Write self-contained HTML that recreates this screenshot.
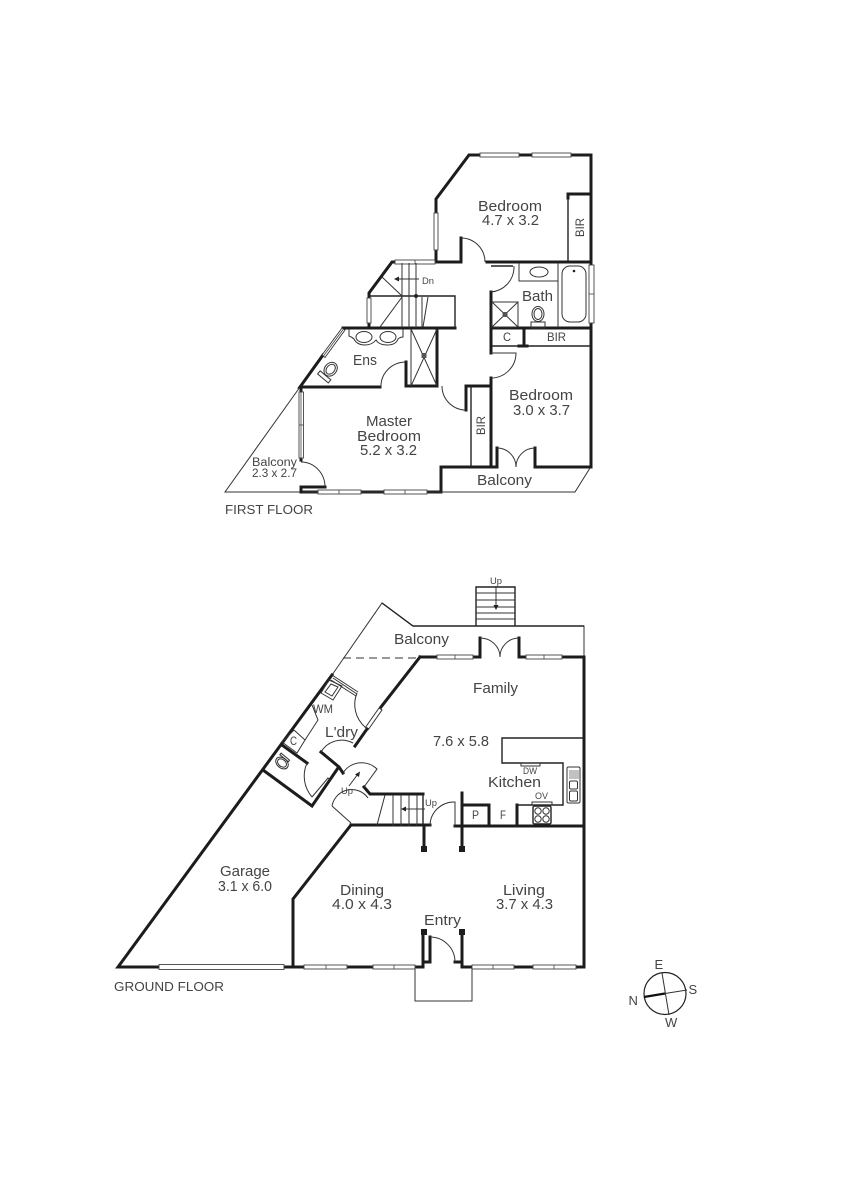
<!DOCTYPE html>
<html><head><meta charset="utf-8"><style>
html,body{margin:0;padding:0;background:#fff}
svg{display:block}
text{font-family:"Liberation Sans",sans-serif;font-size:15px;fill:#444;stroke:none}
.s{font-size:11.500px}
.xs{font-size:9.500px}
.t{fill:none;stroke:#1c1c1c;stroke-width:3;stroke-linejoin:miter;stroke-linecap:square}
.m{fill:none;stroke:#222;stroke-width:1.400}
.n{fill:none;stroke:#333;stroke-width:1}
.w rect{fill:#fff;stroke:#444;stroke-width:.9}
.w line{stroke:#444;stroke-width:.8}
</style></head><body>
<svg xmlns="http://www.w3.org/2000/svg" width="848" height="1200" viewBox="0 0 848 1200">
<rect width="848" height="1200" fill="#fff"/>

<!-- FIRST FLOOR walls -->
<path class="t" d="M591 155H469L436 199V262H461V238"/>
<path class="t" d="M487 262H591"/>
<path class="t" d="M591 155V467H535V448"/>
<path class="t" d="M568 198V194H591"/>
<path class="m" d="M568 194V262"/>
<path class="t" d="M497 448V467H441V492H301V487H325"/>
<path class="t" d="M491 292V353M491 328H591"/>
<path class="m" d="M491 346H591M524 328V346M491 266H513"/>
<path class="t" d="M491 346H491M519 346H527M524 328V346"/>
<path class="t" d="M491 378V467"/>
<path class="t" d="M436 262H392L369 293V328"/>
<path class="t" d="M343 328H455"/>
<path class="t" d="M323 355L300 387H380M406 362V386H411"/>
<path class="m" d="M406 386H438M343 328L323 355"/>
<path class="t" d="M411 386H437V328"/>
<path class="t" d="M466 410V386H491"/>
<path class="m" d="M369 296H455V328M471 386V467"/>
<path class="n" d="M300 387L225 492H575L590 468"/>
<path class="t" d="M301 388V392M301 458V460M301 487V492"/>

<!-- door arcs first floor -->
<path class="n" d="M461 238A24 24 0 0 1 485 262"/>
<path class="n" d="M514 266V268A25 25 0 0 1 491 292"/>
<path class="n" d="M491 353H516A25 25 0 0 1 491 378"/>
<path class="n" d="M381 386A25 24 0 0 1 405 362"/>
<path class="n" d="M442 386A24 24 0 0 0 466 410"/>
<path class="n" d="M497 448A19 19 0 0 1 516 467M535 448A19 19 0 0 0 516 467"/>
<path class="n" d="M301 462A24 25 0 0 1 325 487"/>

<!-- first floor windows -->
<g class="w">
<rect x="480" y="153" width="39" height="4"/><rect x="532" y="153" width="39" height="4"/>
<rect x="434" y="213" width="4" height="37"/>
<rect x="395" y="260" width="40" height="4"/><line x1="415" y1="260" x2="415" y2="264"/>
<rect x="367" y="298" width="4" height="25"/>
<rect x="589" y="265" width="5" height="58"/><line x1="589" y1="294" x2="594" y2="294"/>
<rect x="299" y="392" width="4.500" height="66"/><line x1="301" y1="392" x2="301" y2="458"/><line x1="299" y1="425" x2="304" y2="425"/>
<rect x="318" y="490" width="43" height="4"/><line x1="339" y1="490" x2="339" y2="494"/>
<rect x="384" y="490" width="43" height="4"/><line x1="405" y1="490" x2="405" y2="494"/>
<path d="M342 328L322 355L325 357.500L345 330Z" fill="#fff" stroke="#333" stroke-width=".9"/>
<line x1="343.500" y1="329" x2="323.500" y2="356"/>
</g>

<!-- stairs first floor -->
<path class="n" d="M402 263V328M409 263V328M416 263V328M382 277L402 296M402 297L380 327M422 297V327M428 297L423 327"/>
<circle cx="416" cy="296" r="2" fill="#222"/>
<path class="n" d="M419 279H397"/><path d="M394 279L399 276.500V281.500Z" fill="#222"/>
<text x="422" y="284" class="xs" textLength="12" lengthAdjust="spacingAndGlyphs">Dn</text>

<!-- bath -->
<path class="n" d="M519 263V281H558M558 263V328"/>
<ellipse cx="539" cy="272" rx="9" ry="5" class="n"/>
<rect x="562" y="266" width="24" height="56" rx="8" class="n"/>
<circle cx="574" cy="271" r="1.300" fill="#222"/>
<rect x="492" y="302" width="26" height="25" class="n"/>
<path class="n" d="M492 302L518 327M518 302L492 327"/>
<rect x="502.500" y="312" width="5" height="5" fill="#555"/>
<ellipse cx="538" cy="314" rx="6" ry="7.500" class="n"/><ellipse cx="538" cy="314" rx="4" ry="5.500" class="n"/>
<rect x="531" y="322" width="14" height="6" class="n"/>

<!-- ensuite -->
<path class="n" d="M349 329V336Q352 337 354 339Q357 345 365 345Q372 345 376 340Q379 345 387 345Q396 345 398 339Q400 337 403 337V329"/>
<ellipse cx="364" cy="337" rx="8" ry="5.500" class="n"/><ellipse cx="388" cy="337" rx="8" ry="5.500" class="n"/>
<path class="n" d="M411 329V386M411 329L437 386M437 329L411 386"/>
<rect x="421.500" y="353" width="5" height="5" fill="#555"/>
<g transform="translate(330 370) rotate(40)">
<ellipse cx="0" cy="-1" rx="6" ry="7.500" class="n"/><ellipse cx="0" cy="-1" rx="4" ry="5.500" class="n"/>
<rect x="-7" y="7" width="14" height="4" class="n"/>
</g>

<!-- GROUND FLOOR walls -->
<path class="n" d="M332 675L382 603L413 626H584V657"/>
<path class="m" d="M382 603L413 626H584"/>
<path class="n" d="M343 658H420" stroke-dasharray="8 5"/>
<path class="t" d="M332 675L118 967H293"/>
<path class="t" d="M420 657H473M480 638V657H473"/>
<path class="t" d="M519 638V657H584V967H462V932"/>
<path class="t" d="M420 657L381 707"/>
<path class="t" d="M367 729L355 746"/>
<path class="t" d="M263 770L312 806L338 768M282 745L307 763"/>
<path class="t" d="M321 752L339 767L343 773"/>
<path class="t" d="M364 787L370 794H423"/>
<path class="t" d="M351 825L293 899V967H423V932"/>
<path class="t" d="M351 825H430M455 826H584"/>
<path class="m" d="M423 794V826"/>
<path class="t" d="M424 826V849M462 793V849"/>
<path class="t" d="M423 962H430V937M455 962H462"/>
<path class="t" d="M462 805H489V826M517 805V826"/>
<path class="m" d="M517 805H563V763H502V738H583"/>
<path class="n" d="M415 967V1001H472V967"/>
<path class="n" d="M332 806A20 20 0 0 1 368 798M332 806L351 823"/>
<path class="n" d="M343 773A22 22 0 0 1 377 769L364 787"/>
<path class="n" d="M321 752A24 24 0 0 1 353 743"/>
<path class="n" d="M307 763A32 32 0 0 0 312 797"/>
<path class="n" d="M357 693A30 30 0 0 0 365 727"/>
<path class="n" d="M430 826A24 24 0 0 1 455 802V826"/>
<path class="n" d="M430 937A25 25 0 0 1 455 962"/>
<path class="n" d="M480 638A20 19 0 0 1 500 657M519 638A19 19 0 0 0 500 657"/>
<rect x="421" y="846" width="6" height="6" fill="#1c1c1c"/><rect x="459" y="846" width="6" height="6" fill="#1c1c1c"/>
<rect x="421" y="929" width="6" height="6" fill="#1c1c1c"/><rect x="459" y="929" width="6" height="6" fill="#1c1c1c"/>

<!-- ground floor windows -->
<g class="w">
<rect x="437" y="655" width="36" height="4"/><line x1="455" y1="655" x2="455" y2="659"/>
<rect x="526" y="655" width="36" height="4"/><line x1="544" y1="655" x2="544" y2="659"/>
<rect x="159" y="964.500" width="125" height="5"/>
<rect x="304" y="965" width="43" height="4"/><line x1="326" y1="965" x2="326" y2="969"/>
<rect x="373" y="965" width="42" height="4"/><line x1="394" y1="965" x2="394" y2="969"/>
<rect x="472" y="965" width="42" height="4"/><line x1="493" y1="965" x2="493" y2="969"/>
<rect x="533" y="965" width="43" height="4"/><line x1="554" y1="965" x2="554" y2="969"/>
</g>
<path class="n" d="M365 728L379 708L382 710L368 730"/>
<path class="n" d="M312 797L328 778L330 780"/>
<path class="n" d="M332 675L358 692M333 678L357 694M331 680L356 696"/>
<path class="n" d="M329 680L342 686L333 700L321 693Z M331 684L338 687L332 696L325 692Z"/>
<path class="n" d="M312 705L318 720L305 740L294 730M305 740L297 753L282 742M294 730L282 742"/>
<g transform="translate(282 763) rotate(40)">
<ellipse cx="0" cy="0" rx="7" ry="5" class="n"/><ellipse cx="0" cy="0" rx="5" ry="3.500" class="n"/>
<path class="n" d="M-7 -7H4V-5H-7Z"/>
</g>
<path class="n" d="M349 786L358 774"/><path d="M360 771.500L355 774.500L359 777Z" fill="#222"/>

<!-- stairs ground -->
<path class="n" d="M385 795L377 825M393 795V826M401 795V826M409 795V826M417 795V826M425 809H404"/>
<path d="M401 809L406 806.500V811.500Z" fill="#222"/>
<path class="m" d="M476 626V587H515V626"/>
<path class="n" d="M476 593H515M476 600H515M476 607H515M476 613H515M476 619H515M496 586V607"/>
<path d="M496 610L493.500 605H498.500Z" fill="#222"/>

<!-- kitchen -->
<rect x="521" y="763" width="19" height="3" class="n"/>
<rect x="567" y="767" width="13" height="36" rx="1.500" class="n"/>
<path class="n" style="stroke-width:.6" d="M570 770V779M572 770V779M574 770V779M576 770V779M578 770V779"/>
<rect x="569.500" y="781" width="8" height="8" rx="1.500" class="n"/><rect x="569.500" y="791" width="8" height="10" rx="1.500" class="n"/>
<rect x="532" y="802" width="20" height="3" class="n"/>
<rect x="533" y="806" width="18" height="18" rx="1.500" class="m"/>
<circle cx="538" cy="811" r="3.200" class="n"/><circle cx="546" cy="811" r="3.200" class="n"/>
<circle cx="538" cy="819" r="3.200" class="n"/><circle cx="546" cy="819" r="3.200" class="n"/>

<!-- compass -->
<circle cx="665" cy="993.500" r="21" fill="none" stroke="#222" stroke-width="1.200"/>
<path class="n" d="M662 973L669 1015M665 993.500L687 990"/>
<path d="M644 997L665 993.500" stroke="#111" stroke-width="2.200" fill="none"/>

<!-- first floor labels -->
<text x="478" y="211" textLength="64" lengthAdjust="spacingAndGlyphs">Bedroom</text>
<text x="482" y="225" textLength="57" lengthAdjust="spacingAndGlyphs">4.7 x 3.2</text>
<text x="522" y="301" textLength="31" lengthAdjust="spacingAndGlyphs">Bath</text>
<text x="503" y="341" class="s" textLength="8" lengthAdjust="spacingAndGlyphs">C</text>
<text x="547" y="341" class="s" textLength="19" lengthAdjust="spacingAndGlyphs">BIR</text>
<text transform="translate(584 237) rotate(-90)" class="s" textLength="19" lengthAdjust="spacingAndGlyphs">BIR</text>
<text x="353" y="365" textLength="24" lengthAdjust="spacingAndGlyphs">Ens</text>
<text x="366" y="426" textLength="46" lengthAdjust="spacingAndGlyphs">Master</text>
<text x="357" y="441" textLength="64" lengthAdjust="spacingAndGlyphs">Bedroom</text>
<text x="360" y="455" textLength="57" lengthAdjust="spacingAndGlyphs">5.2 x 3.2</text>
<text x="509" y="400" textLength="64" lengthAdjust="spacingAndGlyphs">Bedroom</text>
<text x="513" y="415" textLength="57" lengthAdjust="spacingAndGlyphs">3.0 x 3.7</text>
<text transform="translate(485 435) rotate(-90)" class="s" textLength="19" lengthAdjust="spacingAndGlyphs">BIR</text>
<text x="252" y="466" class="s" textLength="45" lengthAdjust="spacingAndGlyphs">Balcony</text>
<text x="252" y="477" class="s" textLength="45" lengthAdjust="spacingAndGlyphs">2.3 x 2.7</text>
<text x="477" y="485" textLength="55" lengthAdjust="spacingAndGlyphs">Balcony</text>
<text x="225" y="514" style="font-size:12.500px" textLength="88" lengthAdjust="spacingAndGlyphs">FIRST FLOOR</text>

<!-- ground labels -->
<text x="490" y="584" class="xs" textLength="12" lengthAdjust="spacingAndGlyphs">Up</text>
<text x="394" y="644" textLength="55" lengthAdjust="spacingAndGlyphs">Balcony</text>
<text x="473" y="693" textLength="45" lengthAdjust="spacingAndGlyphs">Family</text>
<text x="313" y="713" class="s" textLength="20" lengthAdjust="spacingAndGlyphs">WM</text>
<text x="325" y="737" textLength="33" lengthAdjust="spacingAndGlyphs">L'dry</text>
<text x="290" y="745" class="s" textLength="7" lengthAdjust="spacingAndGlyphs">C</text>
<text x="433" y="746" textLength="56" lengthAdjust="spacingAndGlyphs">7.6 x 5.8</text>
<text x="488" y="787" textLength="53" lengthAdjust="spacingAndGlyphs">Kitchen</text>
<text x="523" y="774" class="xs" textLength="14" lengthAdjust="spacingAndGlyphs">DW</text>
<text x="535" y="799" class="xs" textLength="13" lengthAdjust="spacingAndGlyphs">OV</text>
<text x="341" y="794" class="xs" textLength="12" lengthAdjust="spacingAndGlyphs">Up</text>
<text x="425" y="806" class="xs" textLength="12" lengthAdjust="spacingAndGlyphs">Up</text>
<text x="472" y="819" class="s" textLength="7" lengthAdjust="spacingAndGlyphs">P</text>
<text x="500" y="819" class="s" textLength="6" lengthAdjust="spacingAndGlyphs">F</text>
<text x="220" y="876" textLength="50" lengthAdjust="spacingAndGlyphs">Garage</text>
<text x="218" y="891" textLength="54" lengthAdjust="spacingAndGlyphs">3.1 x 6.0</text>
<text x="340" y="895" textLength="44" lengthAdjust="spacingAndGlyphs">Dining</text>
<text x="332" y="909" textLength="60" lengthAdjust="spacingAndGlyphs">4.0 x 4.3</text>
<text x="503" y="895" textLength="42" lengthAdjust="spacingAndGlyphs">Living</text>
<text x="496" y="909" textLength="57" lengthAdjust="spacingAndGlyphs">3.7 x 4.3</text>
<text x="424" y="925" textLength="37" lengthAdjust="spacingAndGlyphs">Entry</text>
<text x="114" y="991" style="font-size:12.500px" textLength="110" lengthAdjust="spacingAndGlyphs">GROUND FLOOR</text>
<text x="654.500" y="969" style="font-size:13px">E</text>
<text x="688.500" y="994" style="font-size:13px">S</text>
<text x="628.500" y="1005" style="font-size:13px">N</text>
<text x="665" y="1027" style="font-size:13px">W</text>
</svg>
</body></html>
